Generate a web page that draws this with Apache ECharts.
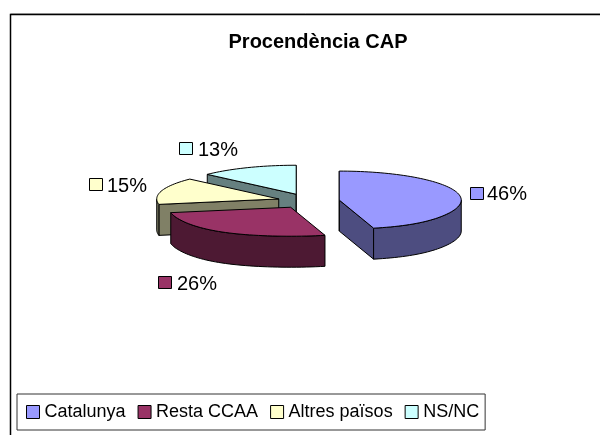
<!DOCTYPE html>
<html>
<head>
<meta charset="utf-8">
<style>html,body{margin:0;padding:0;background:#fff}#c{width:600px;height:435px}</style>
<script src="https://cdn.jsdelivr.net/npm/echarts@6/dist/echarts.min.js"></script>
</head>
<body>
<div id="c"></div>
<script>
const chartTitle = 'Procendència CAP';
const categories = ['Catalunya', 'Resta CCAA', 'Altres països', 'NS/NC'];
const shares = [46, 26, 15, 13];
const topColors = ['#9999FF', '#993366', '#FFFFCC', '#CCFFFF'];
const sideColors = ['#4D4D80', '#4D1933', '#808066', '#668080'];

// pie geometry (pixels)
const pie = { cx: 308.5, cy: 201, rx: 122, ry: 29, depth: 31, explode: 0.254, flare: 0.15 };
// label offset from the rim point on each slice's bisector
const labelDx = [10, -4, -15, -11];
const labelDy = [-3, 51, -6, -19];
const labelAlign = ['left', 'right', 'right', 'right'];
const labelGap = [5, 7, 6, 7];
const FONT = '"Liberation Sans", Arial, sans-serif';

const total = shares.reduce((a, b) => a + b, 0);
const DEG = Math.PI / 180;
function pt(c, a, r) {
  const cosA = Math.cos(a * DEG);
  const front = Math.max(0, -cosA);
  const f = 1 + pie.flare * Math.pow(front, 4);  // the source's front edge is slightly wider
  return [c[0] + r * pie.rx * f * Math.sin(a * DEG), c[1] - r * pie.ry * cosA];
}
function arc(c, a0, a1) {
  const out = [];
  const n = Math.max(2, Math.ceil(Math.abs(a1 - a0) / 2));
  for (let i = 0; i <= n; i++) out.push(pt(c, a0 + (a1 - a0) * i / n, 1));
  return out;
}
const down = p => [p[0], p[1] + pie.depth];

function sliceRenderer(index) {
  const before = shares.slice(0, index).reduce((a, b) => a + b, 0);
  return function (params, api) {
    const value = api.value(1);
    const a0 = before / total * 360;
    const a1 = a0 + value / total * 360;
    const mid = (a0 + a1) / 2;
    const apex = pt([pie.cx, pie.cy], mid, pie.explode);
    const stroke = { stroke: '#000', lineWidth: 1, lineJoin: 'round' };
    const side = sideColors[index];
    const kids = [];
    const poly = (points, fill) => kids.push({
      type: 'polygon', shape: { points }, style: Object.assign({ fill }, stroke)
    });
    // visible radial faces
    [[a0, -1], [a1, 1]].forEach(([a, dir]) => {
      if (dir * Math.sin(a * DEG) > 1e-6) {
        const rim = pt(apex, a, 1);
        poly([apex, rim, down(rim), down(apex)], side);
      }
    });
    // visible outer rim (lower half of the ellipse)
    const v0 = Math.max(a0, 90), v1 = Math.min(a1, 270);
    if (v1 > v0) {
      const top = arc(apex, v0, v1);
      poly(top.concat(top.slice().reverse().map(down)), side);
    }
    // vertical edge where a slice starts or ends at 12 o'clock
    if (Math.abs(Math.sin(a0 * DEG)) < 1e-6 || Math.abs(Math.sin(a1 * DEG)) < 1e-6) {
      const rim = pt(apex, 0, 1);
      kids.push({ type: 'line', shape: { x1: rim[0], y1: rim[1], x2: apex[0], y2: apex[1] + pie.depth }, style: stroke });
    }
    // top face
    poly([apex].concat(arc(apex, a0, a1)), topColors[index]);

    // data label: key box + percentage
    const rimMid = pt(apex, mid, 1);
    const lx = rimMid[0] + labelDx[index], ly = rimMid[1] + labelDy[index];
    const key = 13, gap = 5, tw = 40;
    const left = labelAlign[index] === 'left' ? lx : lx - key - gap - tw;
    kids.push({ type: 'rect', shape: { x: Math.round(left) + 0.5, y: Math.round(ly - key / 2) + 0.5, width: key, height: key - 1 },
      style: { fill: topColors[index], stroke: '#000', lineWidth: 1 }, z2: 50 });
    kids.push({ type: 'text', x: Math.round(left) + key + labelGap[index] - 1, y: ly + 1.5, z2: 50,
      style: { text: Math.round(value / total * 100) + '%', fill: '#000', font: '20px ' + FONT, align: 'left', verticalAlign: 'middle' } });
    return { type: 'group', children: kids };
  };
}

const drawOrder = [3, 2, 1, 0]; // painted back to front
const chart = echarts.init(document.getElementById('c'), null, { renderer: 'canvas' });
chart.setOption({
  animation: false,
  backgroundColor: '#fff',
  title: {
    text: chartTitle, left: 313, top: 26, textAlign: 'center',
    textStyle: { fontFamily: FONT, fontSize: 20, fontWeight: 'bold', color: '#000', lineHeight: 22 }
  },
  legend: {
    data: categories, left: 17, top: 394, orient: 'horizontal',
    padding: [9, 6, 9, 9], itemWidth: 13, itemHeight: 13, itemGap: 12,
    borderColor: '#333', borderWidth: 1, selectedMode: false,
    icon: 'rect',
    itemStyle: { borderColor: '#000', borderWidth: 1 },
    textStyle: { fontFamily: FONT, fontSize: 18, color: '#000' }
  },
  graphic: [
    { type: 'polyline', z: -1, shape: { points: [[600, 13.5], [10.5, 13.5]] }, style: { stroke: '#bbb', lineWidth: 1, fill: null } },
    { type: 'polyline', z: -1, shape: { points: [[600, 14.5], [10.5, 14.5], [10.5, 435]] }, style: { stroke: '#000', lineWidth: 1.5, fill: null } }
  ],
  series: drawOrder.map(i => ({
    type: 'custom',
    name: categories[i],
    coordinateSystem: 'none',
    clip: false,
    silent: true,
    z: 10 + (3 - i),
    itemStyle: { color: topColors[i] },
    data: [[categories[i], shares[i]]],
    renderItem: sliceRenderer(i)
  }))
});
</script>
</body>
</html>
